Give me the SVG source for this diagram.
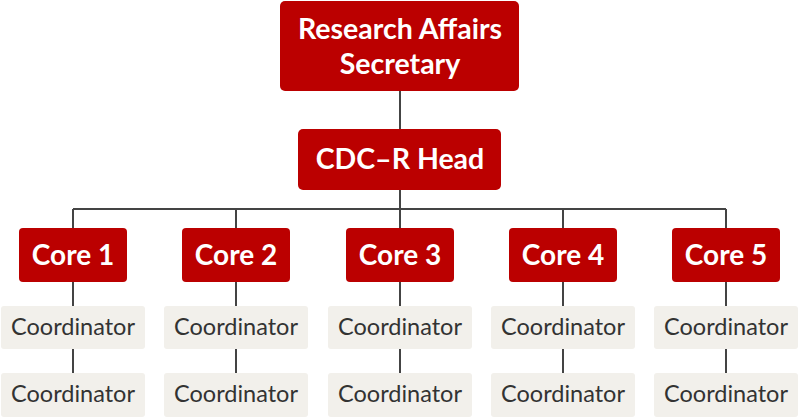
<svg xmlns="http://www.w3.org/2000/svg" width="800" height="418" viewBox="0 0 800 418">
<style>
.red{fill:#bb0000;}
.coord{fill:#f2f0eb;}
.wt{fill:#ffffff;font-family:Lato,"Liberation Sans",sans-serif;font-weight:bold;text-anchor:middle;}
.ct{fill:#333333;font-family:Lato,"Liberation Sans",sans-serif;font-size:23.5px;text-anchor:middle;}
.ln{stroke:#444444;stroke-width:2;fill:none;}
</style>
<g id="connectors">
<path class="ln" d="M400,91V129M400,190V209M73,209H726M73,209V228M236,209V228M400,209V228M563,209V228M726,209V228"/>
<path class="ln" d="M73,282V306M73,349V373M236,282V306M236,349V373M400,282V306M400,349V373M563,282V306M563,349V373M726,282V306M726,349V373"/>
</g>
<g id="secretary"><rect class="red" x="280" y="1" width="239" height="90" rx="5"/><text class="wt" x="400" y="39" font-size="28.5">Research Affairs</text><text class="wt" x="400" y="74" font-size="28.5">Secretary</text></g>
<g id="head"><rect class="red" x="298" y="129" width="203" height="61" rx="5"/><text class="wt" x="400" y="169" font-size="28.5">CDC–R Head</text></g>
<g id="core1"><rect class="red" x="19" y="228" width="108" height="54" rx="4"/><text class="wt" x="73" y="265" font-size="28">Core 1</text></g>
<g id="core2"><rect class="red" x="182" y="228" width="108" height="54" rx="4"/><text class="wt" x="236" y="265" font-size="28">Core 2</text></g>
<g id="core3"><rect class="red" x="346" y="228" width="108" height="54" rx="4"/><text class="wt" x="400" y="265" font-size="28">Core 3</text></g>
<g id="core4"><rect class="red" x="509" y="228" width="108" height="54" rx="4"/><text class="wt" x="563" y="265" font-size="28">Core 4</text></g>
<g id="core5"><rect class="red" x="672" y="228" width="108" height="54" rx="4"/><text class="wt" x="726" y="265" font-size="28">Core 5</text></g>
<g id="coord1a"><rect class="coord" x="1" y="306" width="144" height="43" rx="3"/><text class="ct" x="73" y="335">Coordinator</text></g>
<g id="coord1b"><rect class="coord" x="1" y="373" width="144" height="44" rx="3"/><text class="ct" x="73" y="402">Coordinator</text></g>
<g id="coord2a"><rect class="coord" x="164" y="306" width="144" height="43" rx="3"/><text class="ct" x="236" y="335">Coordinator</text></g>
<g id="coord2b"><rect class="coord" x="164" y="373" width="144" height="44" rx="3"/><text class="ct" x="236" y="402">Coordinator</text></g>
<g id="coord3a"><rect class="coord" x="328" y="306" width="144" height="43" rx="3"/><text class="ct" x="400" y="335">Coordinator</text></g>
<g id="coord3b"><rect class="coord" x="328" y="373" width="144" height="44" rx="3"/><text class="ct" x="400" y="402">Coordinator</text></g>
<g id="coord4a"><rect class="coord" x="491" y="306" width="144" height="43" rx="3"/><text class="ct" x="563" y="335">Coordinator</text></g>
<g id="coord4b"><rect class="coord" x="491" y="373" width="144" height="44" rx="3"/><text class="ct" x="563" y="402">Coordinator</text></g>
<g id="coord5a"><rect class="coord" x="654" y="306" width="144" height="43" rx="3"/><text class="ct" x="726" y="335">Coordinator</text></g>
<g id="coord5b"><rect class="coord" x="654" y="373" width="144" height="44" rx="3"/><text class="ct" x="726" y="402">Coordinator</text></g>
</svg>
